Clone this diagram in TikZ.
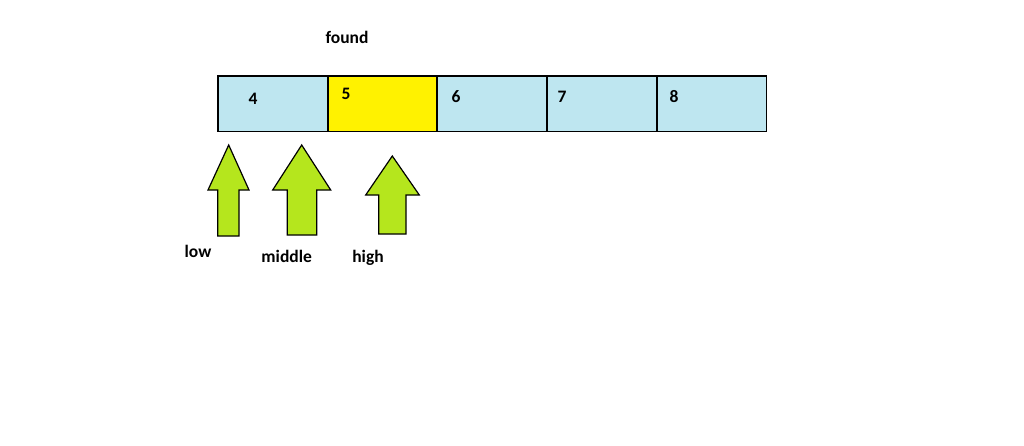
\documentclass[tikz,border=0pt]{standalone}
\usepackage{fontspec}
\setmainfont{Carlito}
\definecolor{cellblue}{RGB}{190,230,240}
\definecolor{cellyellow}{RGB}{255,242,0}
\definecolor{arrowgreen}{RGB}{181,230,29}
\begin{document}
\begin{tikzpicture}[x=1pt,y=-1pt,
  cell/.style={minimum width=109.6pt,minimum height=55.3pt,inner sep=0pt,anchor=north west},
  border/.style={draw=black,line width=1.6pt},
  num/.style={font=\fontsize{17.5}{20}\selectfont\bfseries,inner sep=0pt},
  lbl/.style={font=\fontsize{17.5}{20}\selectfont\bfseries,inner sep=0pt},
  uparrow/.style={fill=arrowgreen,draw=black,line width=1.2pt,line join=miter}]
\useasboundingbox (0,0) rectangle (1024,445);
\fill[white] (0,0) rectangle (1024,445);
% cells
\node[cell,fill=cellblue]   (c1) at (218.0,75.7) {};
\node[cell,fill=cellyellow] (c2) at (327.6,75.7) {};
\node[cell,fill=cellblue]   (c3) at (437.2,75.7) {};
\node[cell,fill=cellblue]   (c4) at (546.8,75.7) {};
\node[cell,fill=cellblue]   (c5) at (656.4,75.7) {};
\foreach \c in {c1,c2,c3,c4,c5}
  \draw[border] (\c.north west) rectangle (\c.south east);
% numbers
\node[num] (n1) at (253,99) {4};
\node[num] (n2) at (346,94) {5};
\node[num] (n3) at (456,97) {6};
\node[num] (n4) at (562,97) {7};
\node[num] (n5) at (674,97) {8};
% found
\node[lbl] (found) at (347,37) {found};
% arrows
\draw[uparrow] (228.7,145) -- (249,190) -- (239,190) -- (239,236) -- (217.7,236) -- (217.7,190) -- (208,190) -- cycle;
\draw[uparrow] (301.7,145) -- (330.7,190) -- (316.7,190) -- (316.7,235) -- (287.3,235) -- (287.3,190) -- (272.7,190) -- cycle;
\draw[uparrow] (392.3,156) -- (419.3,195) -- (406,195) -- (406,234) -- (378.7,234) -- (378.7,195) -- (365.7,195) -- cycle;
% labels
\node[lbl] (low) at (198,251.7) {low};
\node[lbl] (middle) at (286.7,256.7) {middle};
\node[lbl] (high) at (368,258) {high};
\end{tikzpicture}
\end{document}
